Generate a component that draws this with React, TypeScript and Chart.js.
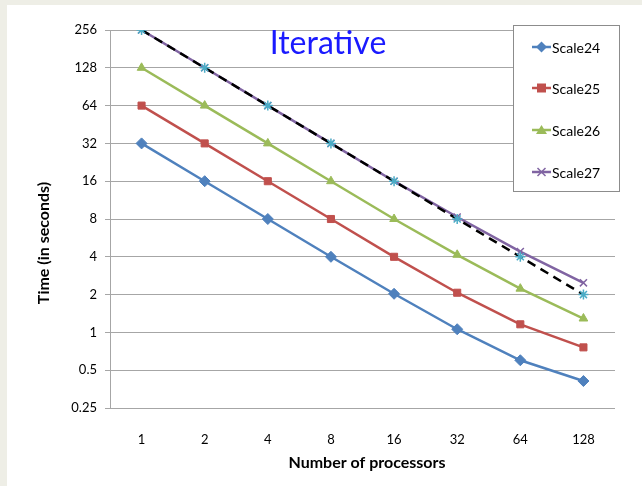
import React, { useEffect, useRef } from "react";
import { Chart, registerables } from "chart.js";

Chart.register(...registerables);

const categories = ["1", "2", "4", "8", "16", "32", "64", "128"];
const scale24 = [32, 16, 8, 4, 2.03, 1.06, 0.6, 0.41];
const scale25 = [64, 32, 16, 8, 4, 2.07, 1.16, 0.76];
const scale26 = [128, 64, 32, 16, 8, 4.15, 2.23, 1.29];
const scale27 = [256, 128, 64, 32, 16, 8.3, 4.4, 2.48];
const ideal = [256, 128, 64, 32, 16, 8, 4, 2];
const yTicks = [0.25, 0.5, 1, 2, 4, 8, 16, 32, 64, 128, 256];
const seriesNames = ["Scale24", "Scale25", "Scale26", "Scale27"];
const seriesColors = ["#4f81bd", "#c0504d", "#9bbb59", "#8064a2"];
const seriesMarkers = ["rectRot", "rect", "triangle", "crossRot"];

const FONT = "Lato, 'Open Sans', sans-serif";

function drawMarker(ctx: CanvasRenderingContext2D, style: string, x: number, y: number, color: string) {
  ctx.save();
  ctx.fillStyle = color;
  ctx.strokeStyle = color;
  ctx.lineWidth = 1.5;
  ctx.beginPath();
  if (style === "rectRot") {
    ctx.moveTo(x, y - 5.5);
    ctx.lineTo(x + 5.5, y);
    ctx.lineTo(x, y + 5.5);
    ctx.lineTo(x - 5.5, y);
    ctx.closePath();
    ctx.fill();
  } else if (style === "rect") {
    ctx.rect(x - 4.5, y - 4.5, 9, 9);
    ctx.fill();
  } else if (style === "triangle") {
    ctx.moveTo(x, y - 5);
    ctx.lineTo(x + 5.5, y + 4);
    ctx.lineTo(x - 5.5, y + 4);
    ctx.closePath();
    ctx.fill();
  } else {
    ctx.moveTo(x - 4, y - 4);
    ctx.lineTo(x + 4, y + 4);
    ctx.moveTo(x + 4, y - 4);
    ctx.lineTo(x - 4, y + 4);
    ctx.stroke();
  }
  ctx.restore();
}

const overlay = {
  id: "overlay",
  beforeDraw(chart: any) {
    const ctx = chart.ctx as CanvasRenderingContext2D;
    ctx.save();
    ctx.fillStyle = "#eeeee6";
    ctx.fillRect(0, 0, chart.width, chart.height);
    ctx.fillStyle = "#ffffff";
    ctx.fillRect(7, 5, chart.width - 7, chart.height - 5);
    ctx.restore();
  },
  afterDraw(chart: any) {
    const ctx = chart.ctx as CanvasRenderingContext2D;
    ctx.save();
    // title
    ctx.fillStyle = "#1a1aff";
    ctx.font = `32px ${FONT}`;
    ctx.textAlign = "center";
    ctx.textBaseline = "alphabetic";
    ctx.fillText("Iterative", 328, 54);
    // axis titles
    ctx.fillStyle = "#000";
    ctx.font = `bold 16px ${FONT}`;
    ctx.textBaseline = "middle";
    ctx.fillText("Number of processors", 367, 463);
    ctx.save();
    ctx.translate(44, 243);
    ctx.rotate(-Math.PI / 2);
    ctx.fillText("Time (in seconds)", 0, 0);
    ctx.restore();
    // legend
    ctx.fillStyle = "#fff";
    ctx.fillRect(513, 25, 106, 166);
    ctx.strokeStyle = "#8c8c8c";
    ctx.lineWidth = 1;
    ctx.strokeRect(513.5, 25.5, 106, 166);
    const ys = [47, 88, 130, 172];
    ctx.font = `14px ${FONT}`;
    ctx.textAlign = "left";
    for (let i = 0; i < seriesNames.length; i++) {
      const y = ys[i];
      ctx.strokeStyle = seriesColors[i];
      ctx.lineWidth = 2.5;
      ctx.beginPath();
      ctx.moveTo(532, y);
      ctx.lineTo(551, y);
      ctx.stroke();
      drawMarker(ctx, seriesMarkers[i], 541.5, y, seriesColors[i]);
      ctx.fillStyle = "#000";
      ctx.fillText(seriesNames[i], 552, y + 1);
    }
    ctx.restore();
  },
};

export default function App() {
  const ref = useRef<HTMLCanvasElement | null>(null);
  useEffect(() => {
    if (!ref.current) return;
    const mk = (label: string, data: number[], color: string, ps: string) => ({
      label,
      data,
      borderColor: color,
      backgroundColor: color,
      borderWidth: 2.5,
      pointStyle: ps,
      pointRadius: ps === "rectRot" ? 5.5 : 5,
      pointBorderWidth: ps === "crossRot" ? 1.5 : 1,
      pointBackgroundColor: color,
      pointBorderColor: color,
      tension: 0,
      fill: false,
    });
    const chart = new Chart(ref.current, {
      type: "line",
      data: {
        labels: categories,
        datasets: [
          {
            label: "Ideal",
            data: ideal,
            borderColor: "#000",
            backgroundColor: "#4bacc6",
            borderWidth: 2.5,
            borderDash: [9, 6],
            pointStyle: "star",
            pointRadius: 5,
            pointBorderWidth: 1.5,
            pointBorderColor: "#4bacc6",
            pointBackgroundColor: "#4bacc6",
            tension: 0,
            fill: false,
          } as any,
          mk("Scale24", scale24, seriesColors[0], seriesMarkers[0]),
          mk("Scale25", scale25, seriesColors[1], seriesMarkers[1]),
          mk("Scale26", scale26, seriesColors[2], seriesMarkers[2]),
          mk("Scale27", scale27, seriesColors[3], seriesMarkers[3]),
        ],
      },
      options: {
        responsive: false,
        animation: false,
        devicePixelRatio: 1,
        layout: { padding: { left: 0, top: 30, right: 27, bottom: 0 } },
        plugins: {
          legend: { display: false },
          title: { display: false },
          tooltip: { enabled: false },
        },
        scales: {
          x: {
            offset: true,
            grid: { display: false },
            border: { display: false },
            ticks: { color: "#000", padding: 16, font: { family: FONT, size: 13 } },
            afterFit: (s: any) => {
              s.height = 78;
            },
          },
          y: {
            type: "logarithmic",
            min: 0.25,
            max: 256,
            afterBuildTicks: (s: any) => {
              s.ticks = yTicks.map((v) => ({ value: v }));
            },
            ticks: {
              color: "#000",
              padding: 8,
              font: { family: FONT, size: 13 },
              callback: (v: any) => String(v),
            },
            grid: { color: "#a6a6a6", lineWidth: 1, tickLength: 5 },
            border: { color: "#a6a6a6" },
            afterFit: (s: any) => {
              s.width = 110;
            },
          },
        },
      } as any,
      plugins: [overlay],
    });
    return () => chart.destroy();
  }, []);
  return (
    <div style={{ position: "absolute", left: 0, top: 0, width: 642, height: 486 }}>
      <canvas ref={ref} width={642} height={486} style={{ display: "block" }} />
    </div>
  );
}
